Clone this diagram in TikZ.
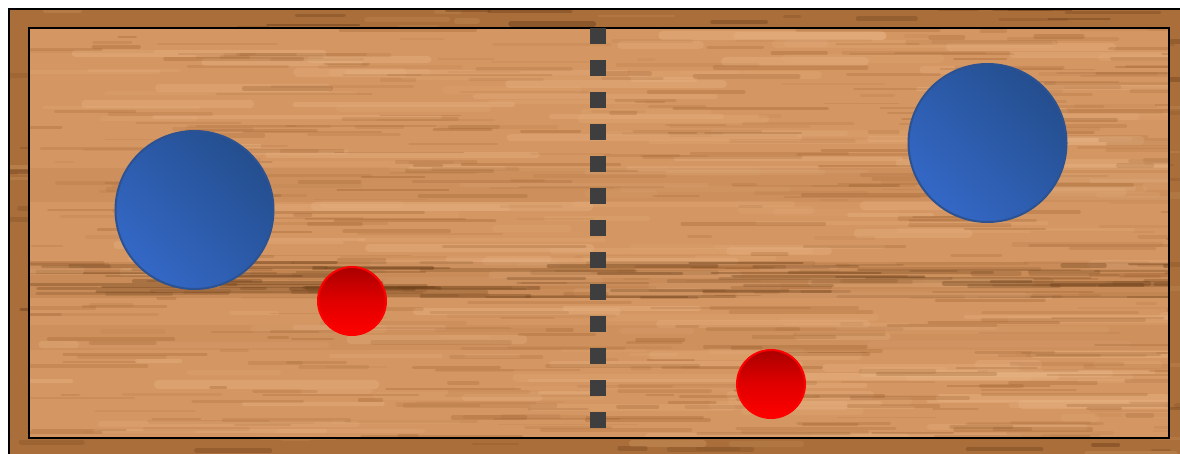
\documentclass[tikz,border=0pt]{standalone}
\usetikzlibrary{shapes.geometric}
\definecolor{frameWood}{RGB}{170,110,58}
\definecolor{frameDark}{RGB}{110,64,26}
\definecolor{frameLight}{RGB}{200,146,92}
\definecolor{boardWood}{RGB}{212,150,98}
\definecolor{boardLight}{RGB}{232,180,132}
\definecolor{boardDark}{RGB}{146,88,40}
\definecolor{dashGray}{RGB}{62,62,62}
\definecolor{blueDark}{RGB}{36,78,142}
\definecolor{blueLight}{RGB}{52,104,198}
\definecolor{blueEdge}{RGB}{44,82,146}
\definecolor{redDark}{RGB}{170,0,0}
\tikzset{
  bigdisc/.style={circle, minimum size=158pt, inner sep=0pt, draw=blueEdge, line width=2pt,
    top color=blueDark, bottom color=blueLight, shading angle=-45},
  smalldisc/.style={circle, minimum size=68pt, inner sep=0pt, draw=red, line width=2pt,
    top color=redDark, bottom color=red, middle color=red!88!black},
  streak/.style={line cap=round},
}
\begin{document}
\begin{tikzpicture}[x=1pt,y=-1pt]
\useasboundingbox (0,0) rectangle (1180,454);
\fill[white] (0,0) rectangle (1180,454);
\begin{scope}
\clip (9,9) rectangle (1180,454);
% frame
\fill[frameWood] (9,9) rectangle (1190,470);
\pgfmathsetseed{4711}
\foreach \i in {1,...,120}{
  \pgfmathsetmacro\yy{9+rnd*445}
  \pgfmathsetmacro\xx{rnd*1180}
  \pgfmathsetmacro\ll{10+rnd*80}
  \pgfmathsetmacro\op{0.2+rnd*0.3}
  \pgfmathsetmacro\lw{2+rnd*5}
  \draw[streak, line width=\lw pt, draw=frameLight, opacity=\op] (\xx,\yy) -- ++(\ll,0);
}
\foreach \i in {1,...,300}{
  \pgfmathsetmacro\yy{9+rnd*445}
  \pgfmathsetmacro\xx{rnd*1180}
  \pgfmathsetmacro\ll{8+rnd*90}
  \pgfmathsetmacro\op{0.15+rnd*0.35}
  \pgfmathsetmacro\lw{1.5+rnd*4}
  \draw[streak, line width=\lw pt, draw=frameDark, opacity=\op] (\xx,\yy) -- ++(\ll,0);
}
% board
\begin{scope}
\clip (29,28) rectangle (1169,438);
\fill[boardWood] (29,28) rectangle (1169,438);
\foreach \i in {1,...,200}{
  \pgfmathsetmacro\yy{28+rnd*410}
  \pgfmathsetmacro\xx{rnd*1180}
  \pgfmathsetmacro\ll{30+rnd*260}
  \pgfmathsetmacro\op{0.12+rnd*0.3}
  \pgfmathsetmacro\lw{3+rnd*6}
  \draw[streak, line width=\lw pt, draw=boardLight, opacity=\op] (\xx,\yy) -- ++(\ll,0);
}
\foreach \i in {1,...,500}{
  \pgfmathsetmacro\yy{28+rnd*410}
  \pgfmathsetmacro\xx{rnd*1180}
  \pgfmathsetmacro\ll{15+rnd*150}
  \pgfmathsetmacro\op{0.06+rnd*0.22}
  \pgfmathsetmacro\lw{1.5+rnd*3}
  \draw[streak, line width=\lw pt, draw=boardDark, opacity=\op] (\xx,\yy) -- ++(\ll,0);
}
% darker bands
\fill[boardDark, opacity=0.16] (29,262) rectangle (1169,298);
\foreach \i in {1,...,90}{
  \pgfmathsetmacro\yy{262+rnd*36}
  \pgfmathsetmacro\xx{rnd*1180}
  \pgfmathsetmacro\ll{40+rnd*200}
  \pgfmathsetmacro\op{0.12+rnd*0.3}
  \pgfmathsetmacro\lw{1.5+rnd*3}
  \draw[streak, line width=\lw pt, draw=frameDark, opacity=\op] (\xx,\yy) -- ++(\ll,0);
}
\fill[boardDark, opacity=0.10] (29,168) rectangle (1169,202);
\fill[boardDark, opacity=0.08] (29,325) rectangle (1169,350);
\end{scope}
\end{scope}
% outer border (left and top visible)
\draw[black, line width=2.5pt] (9,454) -- (9,9) -- (1180,9);
% inner border
\draw[black, line width=2.8pt] (29,28) rectangle (1169,438);
% centre line
\draw[dashGray, line width=16pt, dash pattern=on 16pt off 16pt] (598,28) -- (598,430);
% discs
\node[bigdisc] (blueA) at (194.5,210) {};
\node[bigdisc] (blueB) at (987.5,143) {};
\node[smalldisc] (redA) at (352,301) {};
\node[smalldisc] (redB) at (771,384) {};
\end{tikzpicture}
\end{document}
